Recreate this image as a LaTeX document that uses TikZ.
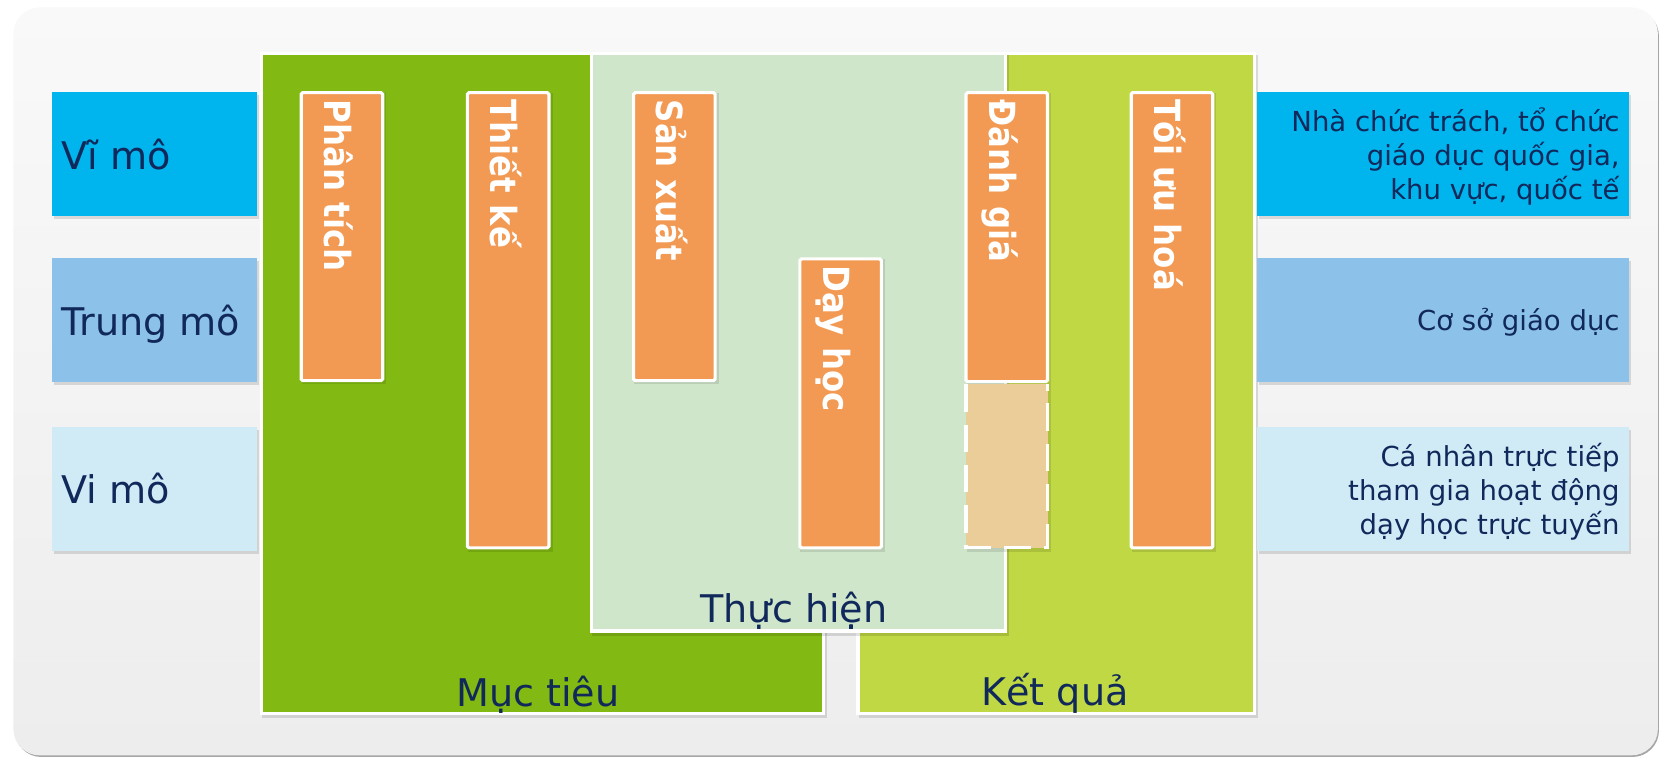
\documentclass[tikz,border=0pt]{standalone}
\usepackage{fontspec}
\setmainfont{DejaVu Sans}
\newfontfamily\barfont[FakeStretch=0.9]{DejaVu Sans}
\definecolor{bgtop}{HTML}{F9F9F9}
\definecolor{bgbot}{HTML}{EDEDED}
\definecolor{gdark}{HTML}{82B912}
\definecolor{glight}{HTML}{CFE6CA}
\definecolor{gyellow}{HTML}{BFD843}
\definecolor{orng}{HTML}{F29A53}
\definecolor{tan}{HTML}{EACD98}
\definecolor{blueA}{HTML}{00B4EE}
\definecolor{blueB}{HTML}{8CC2EA}
\definecolor{blueC}{HTML}{D0EAF6}
\definecolor{navy}{HTML}{10285A}
\newcommand\shbox[5]{%
  \fill[black,opacity=0.12] (#1+2,#2+3) rectangle (#3+2,#4+3);
  \fill[#5] (#1,#2) rectangle (#3,#4);}
\newcommand\wpanel[5]{%
  \fill[black,opacity=0.12] (#1+2,#2+3) rectangle (#3+2,#4+3);
  \draw[panelline,fill=#5] (#1+1.5,#2+1.5) rectangle (#3-1.5,#4-1.5);}
\begin{document}
\begin{tikzpicture}[x=1pt,y=-1pt,
  panelline/.style={draw=white,line width=3pt},
  barline/.style={draw=white,line width=3pt,rounded corners=1.5pt},
  lvl/.style={anchor=base west,inner sep=0,text=navy,font=\fontsize{36}{43}\selectfont},
  phase/.style={anchor=base,inner sep=0,text=navy,font=\fontsize{36}{43}\selectfont},
  rtext/.style={anchor=base east,align=right,inner sep=0,text=navy,font=\fontsize{26}{32.2}\selectfont},
  bartext/.style={rotate=-90,anchor=base west,inner sep=0,text=white,font={\barfont\bfseries\fontsize{34}{40}\selectfont}}]
\useasboundingbox (0,0) rectangle (1568,715);
% background
\fill[black!35,rounded corners=25pt] (14,9) rectangle (1567,715);
\shade[top color=bgtop,bottom color=bgbot,rounded corners=25pt] (12.6,7) rectangle (1566,713.5);
% phase panels
\wpanel{245.6}{48.8}{779}{675.4}{gdark}
\wpanel{809}{48.8}{1186.5}{675.4}{gyellow}
\wpanel{557}{48.8}{951}{597.6}{glight}
% level boxes
\shbox{49}{87}{242.5}{204}{blueA}
\shbox{49}{244}{242.5}{361}{blueB}
\shbox{49}{403}{242.5}{520}{blueC}
\shbox{1187.5}{87}{1539}{204}{blueA}
\shbox{1187.5}{244}{1539}{361}{blueB}
\shbox{1187.5}{403}{1539}{520}{blueC}
% bars
\fill[black,opacity=0.10] (283+2,86+2) rectangle (363+2,361+2);
\fill[black,opacity=0.10] (440+2,86+2) rectangle (520+2,519+2);
\fill[black,opacity=0.10] (597+2,86+2) rectangle (677+2,361+2);
\fill[black,opacity=0.10] (754+2,243+2) rectangle (834+2,519+2);
\fill[black,opacity=0.10] (911+2,86+2) rectangle (991+2,519+2);
\fill[black,opacity=0.10] (1067+2,86+2) rectangle (1147+2,519+2);
\fill[tan] (912.5,363) rectangle (989.5,517.5);
\draw[white,line width=3pt,dash pattern=on 26pt off 12pt] (912.5,363) -- (912.5,517.5) -- (989.5,517.5) -- (989.5,363);
\draw[barline,fill=orng] (284.5,87.5) rectangle (361.5,359.5);
\draw[barline,fill=orng] (441.5,87.5) rectangle (518.5,517.5);
\draw[barline,fill=orng] (598.5,87.5) rectangle (675.5,359.5);
\draw[barline,fill=orng] (755.5,244.5) rectangle (832.5,517.5);
\draw[barline,fill=orng] (912.5,87.5) rectangle (989.5,360.5);
\draw[barline,fill=orng] (1068.5,87.5) rectangle (1145.5,517.5);
% bar texts
\node[bartext] (phantich) at (306.5,94) {Phân tích};
\node[bartext] (thietke) at (463.5,94) {Thiết kế};
\node[bartext] (sanxuat) at (620.5,94) {Sản xuất};
\node[bartext] (dayhoc) at (777.5,251) {Dạy học};
\node[bartext] (danhgia) at (934.5,94) {Đánh giá};
\node[bartext] (toiuuhoa) at (1090.5,94) {Tối ưu hoá};
% level labels
\node[lvl] (vimoA) at (58,160) {Vĩ mô};
\node[lvl] (trungmo) at (58,317) {Trung mô};
\node[lvl] (vimoB) at (58,476) {Vi mô};
% phase labels
\node[phase] (muctieu) at (508,667.5) {Mục tiêu};
\node[phase] (thuchien) at (750,588) {Thực hiện};
\node[phase] (ketqua) at (996.5,666) {Kết quả};
% right descriptions (base = last line)
\node[rtext] (descA) at (1530,188.9) {Nhà chức trách, tổ chức\\giáo dục quốc gia,\\khu vực, quốc tế};
\node[rtext] (descB) at (1530,312) {Cơ sở giáo dục};
\node[rtext] (descC) at (1530,504.8) {Cá nhân trực tiếp\\tham gia hoạt động\\dạy học trực tuyến};
\end{tikzpicture}
\end{document}
